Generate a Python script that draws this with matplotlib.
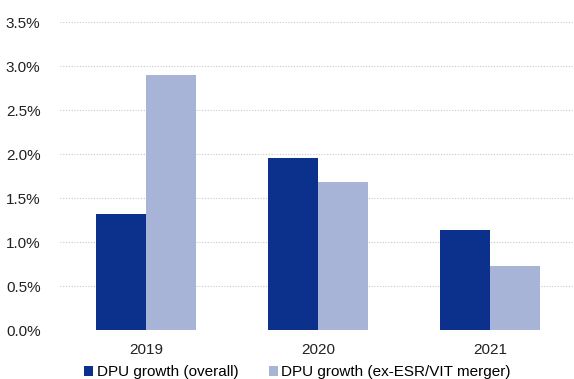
import matplotlib.pyplot as plt
import numpy as np
from matplotlib.ticker import FuncFormatter

plt.rcParams['font.family'] = ['Liberation Sans', 'DejaVu Sans']

years = ['2019', '2020', '2021']
overall = [1.32, 1.95, 1.14]
ex_merger = [2.90, 1.68, 0.73]
labels = ['DPU growth (overall)', 'DPU growth (ex-ESR/VIT merger)']

dark = '#0b318c'
light = '#a8b3d8'

fig = plt.figure(figsize=(5.74, 3.79), dpi=100)
ax = fig.add_axes([60/574, 49/379, 516/574, 308/379])

x = np.arange(len(years))
w = 0.29
ax.bar(x - w/2, overall, w, color=dark, label=labels[0], zorder=3)
ax.bar(x + w/2, ex_merger, w, color=light, label=labels[1], zorder=3)

ax.set_xlim(-0.5, 2.5)
ax.set_ylim(0, 3.5)
ax.set_yticks(np.arange(0, 3.51, 0.5))
ax.yaxis.set_major_formatter(FuncFormatter(lambda v, p: f'{v:.1f}%'))
ax.set_xticks(x)
ax.set_xticklabels(years)
ax.tick_params(axis='both', length=0, labelsize=11, colors='#222222')
ax.tick_params(axis='y', pad=14)
ax.tick_params(axis='x', pad=9)

ax.grid(axis='y', color='#c8c8c8', linestyle=(0, (1, 1.5)), linewidth=0.8, zorder=0)
for s in ax.spines.values():
    s.set_visible(False)

ax.legend(loc='upper center', bbox_to_anchor=(0.46, -0.114), ncol=2, frameon=False,
          fontsize=11, handlelength=0.6, handleheight=0.6, handletextpad=0.2,
          columnspacing=2.0, borderaxespad=0, borderpad=0)

fig.savefig('out.png', dpi=100)
